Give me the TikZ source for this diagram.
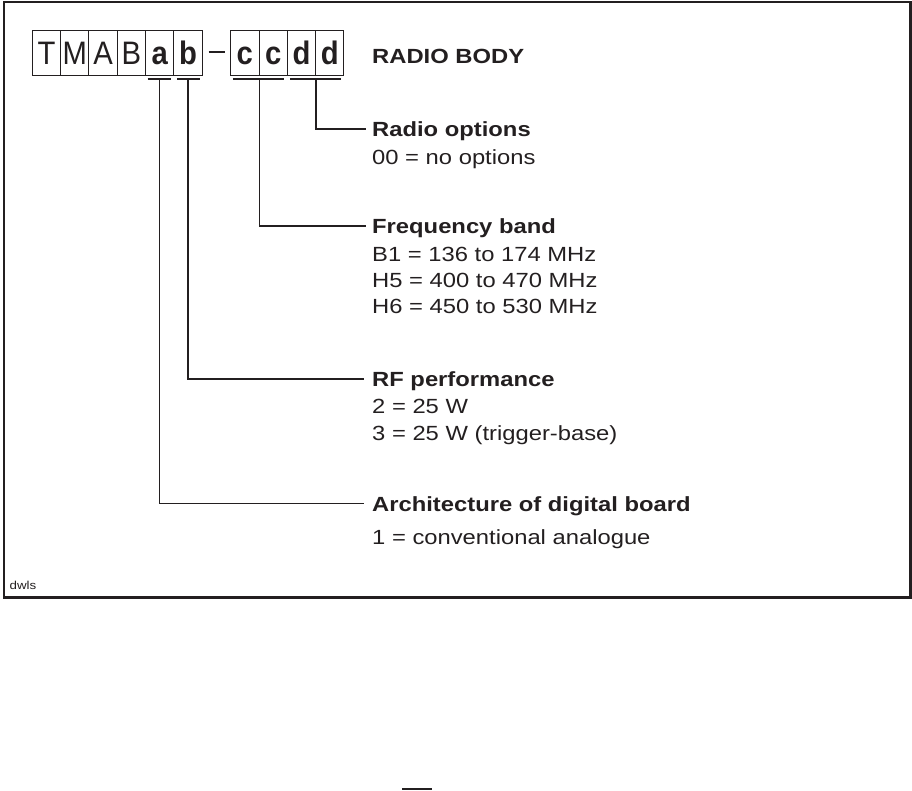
\documentclass[tikz,border=0pt]{standalone}
\usepackage{fontspec}
\setmainfont{Liberation Sans}[FakeStretch=1.16]
\newfontfamily\boxfont{Liberation Sans}[FakeStretch=0.9]
\definecolor{ink}{RGB}{35,31,32}
\begin{document}
\begin{tikzpicture}[x=1pt,y=-1pt,
  cell/.style={draw=ink, line width=0.9pt, minimum width=28.3pt, minimum height=45.3pt,
    inner sep=0pt, text height=23.4pt, text depth=0pt, text=ink,
    font=\boxfont\fontsize{32.5}{33}\selectfont},
  cellb/.style={cell, font=\boxfont\bfseries\fontsize{32.5}{33}\selectfont},
  hdr/.style={anchor=base west, inner sep=0pt, text=ink, font=\bfseries\fontsize{20.5}{24}\selectfont},
  val/.style={anchor=base west, inner sep=0pt, text=ink, font=\fontsize{20.5}{24}\selectfont},
  lead/.style={draw=ink, line width=1.4pt},
  uline/.style={draw=ink, line width=2pt},
  frame/.style={draw=ink, line width=2.2pt}]
\useasboundingbox (0,0) rectangle (912,790);
% frame
\draw[frame] (4,1.8) rectangle (910.5,597.5);
% code boxes
\node[cell]  (T)  at (46.45,52.65)  {T};
\node[cell]  (M)  at (74.75,52.65)  {M};
\node[cell]  (A)  at (103.05,52.65) {A};
\node[cell]  (B)  at (131.35,52.65) {B};
\node[cellb] (a)  at (159.65,52.65) {a};
\node[cellb] (b)  at (187.95,52.65) {b};
\node[cellb] (c1) at (244.85,52.65) {c};
\node[cellb] (c2) at (273.15,52.65) {c};
\node[cellb] (d1) at (301.45,52.65) {d};
\node[cellb] (d2) at (329.75,52.65) {d};
% dash
\draw[draw=ink, line width=1.6pt] ([xshift=6pt,yshift=0.9pt]b.east) -- ([xshift=-5.7pt,yshift=0.9pt]c1.west);
% underlines
\draw[uline] ([xshift=2.5pt,yshift=-3pt]a.south west) -- ([xshift=-3pt,yshift=-3pt]a.south east);
\draw[uline] ([xshift=3.5pt,yshift=-3pt]b.south west) -- ([xshift=-3pt,yshift=-3pt]b.south east);
\draw[uline] ([xshift=2.6pt,yshift=-3pt]c1.south west) -- ([xshift=-3.6pt,yshift=-3pt]c2.south east);
\draw[uline] ([xshift=3.4pt,yshift=-3pt]d1.south west) -- ([xshift=-3.6pt,yshift=-3pt]d2.south east);
\coordinate (ua) at ([yshift=-3pt]a.south);
\coordinate (ub) at ([yshift=-3pt]b.south);
\coordinate (uc) at ([yshift=-3pt]c1.south east);
\coordinate (ud) at ([yshift=-3pt]d1.south east);
% texts
\node[hdr] (title) at (372,63.3) {RADIO BODY};
\node[hdr] (hOpt)  at (372,136.3) {Radio options};
\node[val] (vOpt)  at (372,164) {00 = no options};
\node[hdr] (hFreq) at (372,233.3) {Frequency band};
\node[val] (vB1)   at (372,261) {B1 = 136 to 174 MHz};
\node[val] (vH5)   at (372,287) {H5 = 400 to 470 MHz};
\node[val] (vH6)   at (372,313) {H6 = 450 to 530 MHz};
\node[hdr] (hRF)   at (372,386.5) {RF performance};
\node[val] (vRF2)  at (372,413.5) {2 = 25 W};
\node[val] (vRF3)  at (372,440.8) {3 = 25 W (trigger-base)};
\node[hdr] (hArch) at (372,511) {Architecture of digital board};
\node[val] (vArch) at (372,544.5) {1 = conventional analogue};
\node[anchor=base west, inner sep=0pt, text=ink, font=\fontsize{11.5}{12}\selectfont] (tag) at (9.5,589.3) {dwls};
% leaders
\draw[lead] (ud) |- ([xshift=-6pt,yshift=7.5pt]hOpt.base west);
\draw[lead] (uc) |- ([xshift=-6pt,yshift=7.5pt]hFreq.base west);
\draw[lead] (ub) |- ([xshift=-8.5pt,yshift=7.5pt]hRF.base west);
\draw[lead] (ua) |- ([xshift=-8.5pt,yshift=7.5pt]hArch.base west);
% small mark below
\coordinate (m1) at (402,788.8);
\coordinate (m2) at (432,788.8);
\draw[draw=ink, line width=1.4pt] (m1) -- (m2);
\end{tikzpicture}
\end{document}
